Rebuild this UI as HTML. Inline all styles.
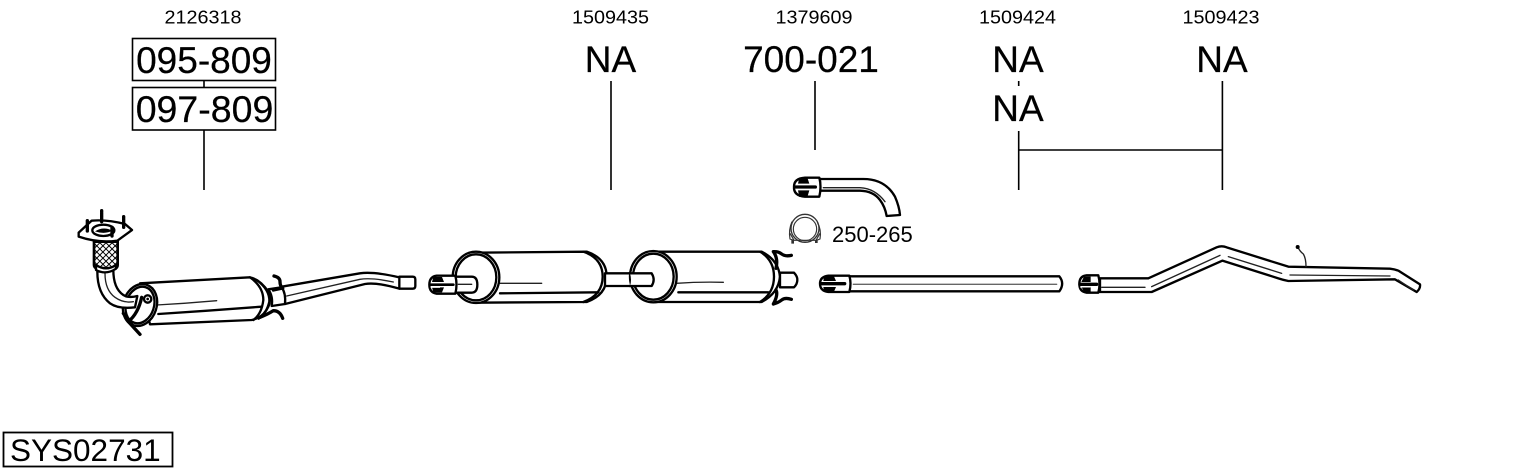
<!DOCTYPE html>
<html>
<head>
<meta charset="utf-8">
<style>
html,body{margin:0;padding:0;background:#fff;}
svg{display:block;}
text{font-family:"Liberation Sans",sans-serif;fill:#000;}
.s{font-size:18px;}
.b{font-size:37px;stroke:#000;stroke-width:.25px;}
.p{fill:none;stroke:#000;stroke-width:7;stroke-linecap:round;stroke-linejoin:round;}
.f{fill:#fff;stroke:#000;stroke-width:7;stroke-linejoin:round;stroke-linecap:round;}
.t{fill:none;stroke:#222;stroke-width:4;stroke-linecap:round;stroke-linejoin:round;}
.k{fill:none;stroke:#000;stroke-width:10;stroke-linecap:round;stroke-linejoin:round;}
</style>
</head>
<body>
<svg width="1530" height="474" viewBox="0 0 1530 474" xmlns="http://www.w3.org/2000/svg">
<defs>
<pattern id="mesh" width="13" height="13" patternUnits="userSpaceOnUse" patternTransform="rotate(45)">
<rect width="13" height="13" fill="#fff"/>
<path d="M0 0H13M0 0V13" stroke="#000" stroke-width="6"/>
</pattern>
</defs>

<!-- labels -->
<g text-anchor="middle">
<text class="s" x="203" y="23.5" textLength="77" lengthAdjust="spacingAndGlyphs">2126318</text>
<text class="s" x="610.5" y="23.5" textLength="77" lengthAdjust="spacingAndGlyphs">1509435</text>
<text class="s" x="814" y="23.5" textLength="77" lengthAdjust="spacingAndGlyphs">1379609</text>
<text class="s" x="1017.5" y="23.5" textLength="77" lengthAdjust="spacingAndGlyphs">1509424</text>
<text class="s" x="1221" y="23.5" textLength="77" lengthAdjust="spacingAndGlyphs">1509423</text>
<text class="b" x="204" y="73">095-809</text>
<text class="b" x="204.5" y="122" style="font-size:37.5px">097-809</text>
<text class="b" x="610.5" y="72">NA</text>
<text class="b" x="811" y="72">700-021</text>
<text class="b" x="1018" y="72">NA</text>
<text class="b" x="1018" y="121">NA</text>
<text class="b" x="1222" y="72">NA</text>
</g>
<text x="832" y="242" style="font-size:22px">250-265</text>

<!-- boxes -->
<g fill="none" stroke="#000" stroke-width="1.6">
<rect x="132.5" y="38.5" width="143" height="42"/>
<rect x="132.5" y="87.5" width="143" height="42.5"/>
<path d="M204 80V87M204 130V190M611 81V190M815 81V150M1018.7 81V86M1018.7 131V190M1018.7 150H1222.4M1222.4 81V190"/>
</g>
<rect x="3.5" y="432.5" width="169" height="34" fill="none" stroke="#000" stroke-width="1.8"/>
<text x="10" y="461" style="font-size:31.5px">SYS02731</text>

<!-- Part 1: front pipe with cat -->
<g transform="translate(60,190) scale(.33333)">
<!-- outlet pipe -->
<path class="f" d="M1018 260H1058Q1066 260 1066 268V288Q1066 296 1058 296H1018Z"/>
<path class="f" d="M665 290L900 250Q940 244 1018 262V296Q950 276 915 282L675 342Z"/>
<path class="t" d="M680 318L900 268Q935 262 1000 276"/>
<!-- body -->
<path class="f" d="M240 280L570 262Q600 268 625 305Q640 340 610 372Q595 386 575 390L270 403Z"/>
<path class="p" d="M570 262Q610 290 610 330Q605 372 580 390"/>
<path class="p" d="M590 270Q630 300 628 335Q620 370 596 386"/>
<path class="t" d="M290 345Q380 340 470 332"/>
<path class="p" d="M295 372Q450 362 605 350"/>
<path class="f" d="M625 298L665 292Q678 310 675 342L635 348Q640 320 625 298Z"/>
<!-- clamp wires -->
<path class="k" d="M642 258Q660 262 660 275T668 295M640 300L668 294"/>
<path class="k" d="M600 382Q625 372 640 362Q660 362 668 385"/>
<!-- end rings -->
<ellipse class="f" cx="240" cy="345" rx="50" ry="64" transform="rotate(18 240 345)"/>
<ellipse class="p" cx="240" cy="345" rx="42" ry="56" transform="rotate(18 240 345)"/>
<circle class="p" cx="263" cy="327" r="11"/>
<circle cx="263" cy="327" r="4" fill="#000"/>
<!-- bent pipe -->
<path class="f" d="M112 245Q112 310 150 340Q175 358 225 352L232 318Q205 325 190 315Q160 295 160 240Z"/>
<path class="t" d="M135 250Q135 300 165 322Q190 340 220 335"/>
<path class="k" d="M245 322Q235 370 205 395L240 433M190 370L220 410"/>
<!-- mesh -->
<path d="M102 155H173V225Q173 240 140 242Q102 240 102 225Z" fill="url(#mesh)" stroke="#000" stroke-width="8"/>
<path class="f" d="M108 225Q138 245 168 225V236Q138 256 108 240Z"/>
<!-- flange -->
<path class="f" d="M56 128L95 92Q140 88 195 102L216 120L172 152Q115 160 56 140Z" stroke-width="9"/>
<ellipse cx="130" cy="121" rx="33" ry="17" fill="#fff" stroke="#000" stroke-width="7"/>
<path d="M105 124Q130 108 157 122Q135 134 105 124Z" fill="#000"/>
<path class="k" d="M82 92V123M125 62V96M191 80V112M156 112V140" stroke-width="13" stroke-dasharray="5 2" stroke-linecap="butt"/>
</g>

<!-- Part 2: mufflers -->
<g transform="translate(420,230) scale(.33333)">
<!-- first muffler -->
<path class="f" d="M165 68L500 65Q560 85 560 140Q560 195 500 216L165 218Z"/>
<path class="p" d="M490 65Q548 85 548 140Q548 195 490 216"/>
<path class="t" d="M240 160H365"/>
<path class="p" d="M240 190L535 187"/>
<ellipse class="f" cx="168" cy="142" rx="70" ry="77"/>
<ellipse class="p" cx="168" cy="142" rx="61" ry="69"/>
<!-- inlet -->
<path class="f" d="M100 140H155Q172 140 172 164Q172 188 155 188H100Z"/>
<path class="t" d="M115 163H155"/>
<path class="f" d="M50 137H106Q113 163 106 191H50Q28 188 28 164Q28 140 50 137Z"/>
<path d="M40 141H66L72 156H36ZM36 172H72L66 187H40Z" fill="#000"/>
<path d="M32 164H100" stroke="#000" stroke-width="8" stroke-linecap="round"/>
<path d="M32 172H60" stroke="#fff" stroke-width="3"/>
<!-- link pipe -->
<path class="f" d="M555 130H695Q705 148 695 168H555Z"/>
<!-- second muffler -->
<path class="f" d="M700 65H1025Q1075 90 1080 140Q1075 190 1025 216H700Z"/>
<path class="p" d="M1020 65Q1062 90 1062 140Q1062 190 1020 216"/>
<path class="t" d="M770 160Q840 155 910 157"/>
<path class="p" d="M775 187H1045"/>
<ellipse class="f" cx="700" cy="140" rx="70" ry="77"/>
<ellipse class="p" cx="700" cy="140" rx="61" ry="69"/>
<path class="f" d="M630 130H695Q705 148 695 168H630Q636 150 630 130Z" style="stroke:none"/>
<path class="p" d="M628 130H695Q707 149 695 168H628"/>
<!-- outlet -->
<path class="f" d="M1080 128H1122Q1133 140 1132 150Q1132 162 1122 172H1080Z"/>
<!-- wires -->
<path class="k" d="M1114 76Q1095 80 1085 72T1060 65Q1075 85 1068 115" stroke-width="6"/>
<path class="k" d="M1114 208Q1095 202 1085 210T1060 222Q1075 195 1068 180" stroke-width="6"/>
</g>

<!-- Part 3: bent pipe, clamp, straight pipe -->
<g transform="translate(770,165) scale(.33333)">
<path class="f" d="M150 42H280Q345 42 375 95Q388 125 390 150L350 153Q345 125 330 105Q310 78 270 77H150Z"/>
<path class="t" d="M160 68H270Q315 70 345 110"/>
<path class="f" d="M105 38H148Q155 65 148 95H105Q70 92 72 65Q72 40 105 38Z"/>
<path d="M88 38H112L118 56H84ZM84 76H118L112 96H88Z" fill="#000"/>
<path class="k" d="M76 66H136" stroke-width="8"/>

<!-- clamp -->
<g fill="none" stroke="#333" stroke-width="3.5">
<circle cx="105" cy="190" r="42" stroke-width="4"/>
<circle cx="105" cy="192" r="35"/>
<path d="M66 170Q55 195 60 222L70 226H140L150 222Q155 195 142 172"/>
<path d="M60 205L72 226M150 205L138 226"/>
<path d="M68 225V236M139 225V234" stroke-width="8"/>
</g>

<!-- straight pipe -->
<path class="f" d="M238 334H868Q885 355 868 379H238Z"/>
<path class="t" d="M250 358H860" style="stroke:#666"/>
<path class="f" d="M175 332H238Q245 355 238 381H175Q150 378 150 356Q150 335 175 332Z"/>
<path d="M162 334H192L198 348H160ZM160 366H198L192 380H162Z" fill="#000"/>
<path class="k" d="M154 356H224" stroke-width="8"/>
</g>

<!-- Part 4: tail pipe -->
<g transform="translate(1070,230) scale(.33333)">
<path class="f" d="M90 145H235L440 52Q455 46 470 52L655 110L960 116Q975 118 985 122L1050 163Q1052 175 1040 186L975 148L655 153Q640 150 625 145L457 92L245 186H90Z"/>
<path class="t" d="M245 170L450 76M475 80L635 130M660 135L960 138M985 150L1030 180M95 172H225"/>
<path class="t" d="M708 110Q708 85 700 72Q690 65 684 52" stroke-width="5"/>
<circle cx="683" cy="51" r="6" fill="#000"/>
<path class="f" d="M50 136H85Q92 162 85 188H50Q28 185 28 162Q28 138 50 136Z"/>
<path d="M42 140H62V156H34ZM34 170H62V186H42Z" fill="#000"/>
<path class="k" d="M30 163H80" stroke-width="6"/>
<path d="M30 171H62" stroke="#fff" stroke-width="3"/>
</g>
</svg>
</body>
</html>
